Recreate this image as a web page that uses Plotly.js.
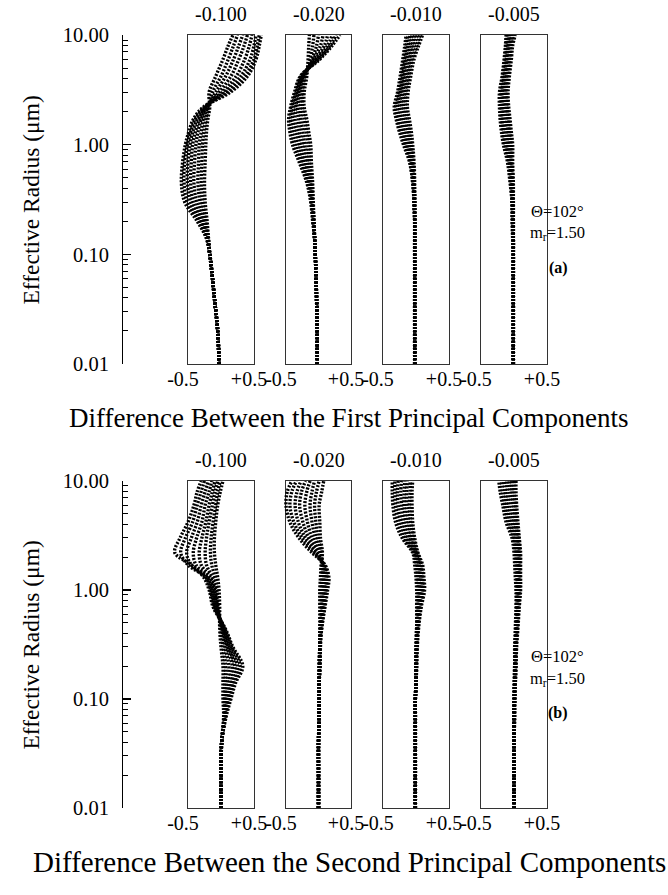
<!DOCTYPE html>
<html>
<head>
<meta charset="utf-8">
<script src="https://cdn.plot.ly/plotly-3.0.1.min.js"></script>
<style>
  html, body { margin: 0; padding: 0; background: #fff; }
  #chart { width: 668px; height: 895px; }
</style>
</head>
<body>
<div id="chart"></div>
<script>
// Effective radius grid (µm) shared by every curve
const RADIUS = [0.01, 0.02, 0.04, 0.07, 0.1, 0.14, 0.2, 0.3, 0.45, 0.7, 1.0, 1.3, 1.7, 2.2, 3.0, 4.2, 6.0, 8.0, 10.0];

// Column headings (perturbation of the refractive index)
const COLUMN_LABELS = ['-0.100', '-0.020', '-0.010', '-0.005'];

// Y tick values and their printed labels
const Y_TICKS = [0.01, 0.1, 1, 10];
const Y_TICK_TEXT = ['0.01', '0.10', '1.00', '10.00'];
const Y_MINOR = [0.02,0.03,0.04,0.05,0.06,0.07,0.08,0.09,0.2,0.3,0.4,0.5,0.6,0.7,0.8,0.9,2,3,4,5,6,7,8,9];

// X tick values and their printed labels
const X_TICKS = [-0.5, 0.5];
const X_TICK_TEXT = ['-0.5', '+0.5'];

// (a) Difference between the first principal components
const first_m100 = [
  [-0.03,-0.05,-0.10,-0.14,-0.17,-0.19,-0.21,-0.24,-0.25,-0.24,-0.23,-0.22,-0.20,-0.17,-0.18,-0.08,0.03,0.11,0.18],
  [-0.03,-0.05,-0.10,-0.14,-0.17,-0.19,-0.23,-0.28,-0.30,-0.29,-0.28,-0.26,-0.23,-0.19,-0.13,0.00,0.11,0.19,0.25],
  [-0.03,-0.05,-0.10,-0.14,-0.17,-0.20,-0.25,-0.32,-0.35,-0.34,-0.33,-0.30,-0.27,-0.20,-0.08,0.07,0.19,0.27,0.33],
  [-0.03,-0.05,-0.10,-0.14,-0.17,-0.20,-0.27,-0.37,-0.41,-0.40,-0.38,-0.35,-0.30,-0.22,-0.03,0.15,0.27,0.35,0.40],
  [-0.03,-0.05,-0.10,-0.14,-0.17,-0.21,-0.29,-0.42,-0.46,-0.45,-0.43,-0.39,-0.33,-0.23,0.02,0.23,0.36,0.43,0.47],
  [-0.03,-0.05,-0.10,-0.14,-0.17,-0.21,-0.31,-0.46,-0.51,-0.50,-0.47,-0.43,-0.36,-0.24,0.06,0.30,0.44,0.50,0.53],
  [-0.03,-0.05,-0.10,-0.14,-0.17,-0.22,-0.33,-0.51,-0.56,-0.55,-0.51,-0.46,-0.39,-0.25,0.10,0.36,0.50,0.55,0.58],
  [-0.03,-0.05,-0.10,-0.14,-0.17,-0.22,-0.36,-0.55,-0.60,-0.58,-0.54,-0.49,-0.42,-0.27,0.14,0.40,0.53,0.58,0.61]
];
const first_m020 = [
  [-0.02,-0.02,-0.03,-0.04,-0.05,-0.06,-0.07,-0.08,-0.09,-0.11,-0.12,-0.15,-0.18,-0.22,-0.22,-0.18,-0.16,-0.15,-0.14],
  [-0.02,-0.02,-0.03,-0.04,-0.05,-0.06,-0.07,-0.09,-0.10,-0.14,-0.16,-0.19,-0.22,-0.25,-0.24,-0.20,-0.13,-0.09,-0.07],
  [-0.02,-0.02,-0.03,-0.04,-0.05,-0.06,-0.07,-0.09,-0.12,-0.17,-0.21,-0.24,-0.27,-0.28,-0.26,-0.21,-0.10,-0.03,0.00],
  [-0.02,-0.02,-0.03,-0.04,-0.05,-0.06,-0.08,-0.10,-0.13,-0.20,-0.25,-0.29,-0.31,-0.32,-0.29,-0.23,-0.08,0.03,0.07],
  [-0.02,-0.02,-0.03,-0.04,-0.05,-0.06,-0.08,-0.10,-0.14,-0.23,-0.29,-0.33,-0.36,-0.35,-0.31,-0.24,-0.05,0.09,0.14],
  [-0.02,-0.02,-0.03,-0.04,-0.05,-0.06,-0.08,-0.11,-0.15,-0.25,-0.33,-0.37,-0.40,-0.38,-0.33,-0.25,-0.03,0.14,0.21],
  [-0.02,-0.02,-0.03,-0.04,-0.05,-0.06,-0.08,-0.11,-0.17,-0.28,-0.37,-0.41,-0.43,-0.41,-0.35,-0.27,0.00,0.18,0.27],
  [-0.02,-0.02,-0.03,-0.04,-0.05,-0.06,-0.09,-0.12,-0.18,-0.30,-0.40,-0.44,-0.46,-0.43,-0.37,-0.28,0.02,0.21,0.33]
];
const first_m010 = [
  [-0.02,-0.02,-0.02,-0.02,-0.02,-0.02,-0.02,-0.02,-0.02,-0.03,-0.05,-0.07,-0.10,-0.13,-0.12,-0.08,-0.03,0.04,0.10],
  [-0.02,-0.02,-0.02,-0.02,-0.02,-0.02,-0.02,-0.02,-0.03,-0.04,-0.07,-0.10,-0.13,-0.16,-0.15,-0.11,-0.06,0.01,0.06],
  [-0.02,-0.02,-0.02,-0.02,-0.02,-0.02,-0.02,-0.02,-0.03,-0.05,-0.09,-0.12,-0.16,-0.19,-0.17,-0.13,-0.09,-0.03,0.02],
  [-0.02,-0.02,-0.02,-0.02,-0.02,-0.02,-0.02,-0.02,-0.03,-0.06,-0.11,-0.15,-0.19,-0.22,-0.20,-0.16,-0.11,-0.06,-0.02],
  [-0.02,-0.02,-0.02,-0.02,-0.02,-0.02,-0.02,-0.03,-0.04,-0.07,-0.13,-0.18,-0.22,-0.25,-0.22,-0.18,-0.14,-0.09,-0.06],
  [-0.02,-0.02,-0.02,-0.02,-0.02,-0.02,-0.02,-0.03,-0.04,-0.08,-0.15,-0.20,-0.25,-0.28,-0.24,-0.20,-0.16,-0.12,-0.09],
  [-0.02,-0.02,-0.02,-0.02,-0.02,-0.02,-0.02,-0.03,-0.05,-0.09,-0.17,-0.23,-0.28,-0.31,-0.26,-0.22,-0.18,-0.15,-0.12],
  [-0.02,-0.02,-0.02,-0.02,-0.02,-0.02,-0.02,-0.03,-0.05,-0.10,-0.19,-0.25,-0.30,-0.33,-0.28,-0.24,-0.20,-0.17,-0.15]
];
const first_m005 = [
  [-0.01,-0.01,-0.01,-0.01,-0.01,-0.01,-0.01,-0.01,-0.01,-0.02,-0.02,-0.04,-0.06,-0.08,-0.09,-0.07,-0.04,-0.02,0.02],
  [-0.01,-0.01,-0.01,-0.01,-0.01,-0.01,-0.01,-0.01,-0.02,-0.03,-0.04,-0.06,-0.08,-0.10,-0.11,-0.09,-0.06,-0.04,0.00],
  [-0.01,-0.01,-0.01,-0.01,-0.01,-0.01,-0.01,-0.02,-0.02,-0.04,-0.06,-0.08,-0.10,-0.12,-0.13,-0.11,-0.08,-0.06,-0.03],
  [-0.01,-0.01,-0.01,-0.01,-0.01,-0.01,-0.02,-0.02,-0.03,-0.05,-0.08,-0.10,-0.12,-0.14,-0.15,-0.12,-0.10,-0.08,-0.05],
  [-0.01,-0.01,-0.01,-0.01,-0.01,-0.01,-0.02,-0.02,-0.04,-0.06,-0.10,-0.12,-0.15,-0.16,-0.17,-0.14,-0.11,-0.09,-0.07],
  [-0.01,-0.01,-0.01,-0.01,-0.01,-0.01,-0.02,-0.03,-0.04,-0.07,-0.12,-0.15,-0.17,-0.18,-0.18,-0.15,-0.12,-0.10,-0.08],
  [-0.01,-0.01,-0.01,-0.01,-0.01,-0.02,-0.02,-0.03,-0.05,-0.08,-0.14,-0.17,-0.19,-0.20,-0.20,-0.17,-0.14,-0.12,-0.10],
  [-0.01,-0.01,-0.01,-0.01,-0.01,-0.02,-0.03,-0.03,-0.06,-0.10,-0.16,-0.19,-0.21,-0.22,-0.22,-0.18,-0.15,-0.13,-0.12]
];

// (b) Difference between the second principal components
const second_m100 = [
  [0.00,0.00,0.01,0.04,0.03,0.03,0.03,0.00,-0.02,-0.02,-0.03,-0.05,-0.08,-0.10,-0.10,-0.08,-0.05,-0.01,0.03],
  [0.00,0.00,0.01,0.05,0.05,0.06,0.07,0.03,-0.01,-0.04,-0.06,-0.09,-0.14,-0.16,-0.15,-0.12,-0.08,-0.05,-0.01],
  [0.00,0.00,0.01,0.05,0.06,0.09,0.12,0.06,0.01,-0.05,-0.08,-0.13,-0.22,-0.24,-0.22,-0.18,-0.13,-0.09,-0.05],
  [0.00,0.00,0.01,0.06,0.08,0.12,0.17,0.09,0.02,-0.06,-0.10,-0.16,-0.30,-0.33,-0.29,-0.23,-0.18,-0.13,-0.09],
  [0.00,0.00,0.01,0.06,0.10,0.15,0.21,0.11,0.03,-0.08,-0.12,-0.19,-0.38,-0.42,-0.37,-0.29,-0.24,-0.18,-0.14],
  [0.00,0.00,0.01,0.07,0.11,0.17,0.25,0.13,0.04,-0.09,-0.14,-0.21,-0.45,-0.52,-0.45,-0.36,-0.30,-0.24,-0.19],
  [0.00,0.00,0.01,0.07,0.13,0.20,0.29,0.16,0.05,-0.10,-0.16,-0.23,-0.50,-0.61,-0.54,-0.43,-0.36,-0.30,-0.25],
  [0.00,0.00,0.01,0.08,0.15,0.22,0.33,0.18,0.06,-0.12,-0.18,-0.26,-0.45,-0.70,-0.62,-0.50,-0.41,-0.36,-0.30]
];
const second_m020 = [
  [0.00,0.00,0.00,0.01,0.01,0.01,0.01,0.02,0.02,0.02,0.02,0.03,0.04,0.06,0.03,0.02,0.01,0.05,0.08],
  [0.00,0.00,0.00,0.01,0.01,0.01,0.01,0.02,0.03,0.04,0.04,0.05,0.05,0.05,-0.01,-0.04,-0.06,-0.03,0.01],
  [0.00,0.00,0.00,0.01,0.01,0.01,0.01,0.02,0.03,0.05,0.06,0.07,0.06,0.03,-0.05,-0.10,-0.13,-0.10,-0.06],
  [0.00,0.00,0.00,0.01,0.01,0.01,0.02,0.02,0.03,0.06,0.08,0.08,0.06,0.01,-0.10,-0.17,-0.21,-0.18,-0.13],
  [0.00,0.00,0.00,0.01,0.01,0.01,0.02,0.02,0.04,0.07,0.09,0.10,0.07,-0.02,-0.15,-0.24,-0.29,-0.26,-0.20],
  [0.00,0.00,0.00,0.01,0.01,0.01,0.02,0.02,0.04,0.08,0.11,0.12,0.08,-0.04,-0.20,-0.31,-0.36,-0.33,-0.27],
  [0.00,0.00,0.00,0.01,0.01,0.01,0.02,0.02,0.05,0.09,0.12,0.14,0.09,-0.07,-0.25,-0.38,-0.44,-0.41,-0.34],
  [0.00,0.00,0.00,0.01,0.01,0.01,0.02,0.03,0.05,0.10,0.14,0.16,0.10,-0.10,-0.30,-0.44,-0.50,-0.48,-0.41]
];
const second_m010 = [
  [-0.01,-0.01,-0.01,-0.01,-0.01,0.00,0.00,0.00,0.01,0.01,0.01,0.00,-0.02,-0.05,-0.21,-0.31,-0.35,-0.36,-0.36],
  [-0.01,-0.01,-0.01,-0.01,-0.01,0.00,0.00,0.00,0.01,0.02,0.03,0.02,0.00,-0.04,-0.18,-0.27,-0.31,-0.32,-0.32],
  [-0.01,-0.01,-0.01,-0.01,-0.01,0.00,0.00,0.01,0.01,0.03,0.05,0.04,0.02,-0.03,-0.15,-0.23,-0.27,-0.28,-0.27],
  [-0.01,-0.01,-0.01,-0.01,-0.01,0.00,0.00,0.01,0.02,0.04,0.06,0.06,0.04,-0.01,-0.12,-0.19,-0.22,-0.23,-0.22],
  [-0.01,-0.01,-0.01,-0.01,-0.01,0.00,0.00,0.01,0.02,0.05,0.08,0.07,0.05,0.00,-0.09,-0.15,-0.18,-0.18,-0.17],
  [-0.01,-0.01,-0.01,-0.01,-0.01,0.00,0.00,0.01,0.03,0.06,0.10,0.08,0.07,0.01,-0.07,-0.11,-0.14,-0.14,-0.13],
  [-0.01,-0.01,-0.01,-0.01,-0.01,0.00,0.01,0.01,0.03,0.07,0.11,0.10,0.08,0.02,-0.04,-0.08,-0.10,-0.09,-0.09],
  [-0.01,-0.01,-0.01,-0.01,-0.01,0.00,0.01,0.02,0.04,0.08,0.13,0.12,0.10,0.03,-0.02,-0.05,-0.06,-0.06,-0.05]
];
const second_m005 = [
  [0.00,0.00,0.00,0.00,0.00,0.00,0.01,0.01,0.02,0.03,0.03,0.02,0.01,0.00,-0.03,-0.12,-0.17,-0.21,-0.23],
  [0.00,0.00,0.00,0.00,0.00,0.01,0.01,0.02,0.03,0.04,0.04,0.04,0.03,0.02,-0.01,-0.09,-0.14,-0.17,-0.19],
  [0.00,0.00,0.00,0.00,0.00,0.01,0.01,0.02,0.03,0.04,0.05,0.05,0.05,0.04,0.01,-0.06,-0.11,-0.13,-0.15],
  [0.00,0.00,0.00,0.00,0.01,0.01,0.02,0.02,0.04,0.05,0.06,0.06,0.06,0.05,0.03,-0.03,-0.08,-0.10,-0.11],
  [0.00,0.00,0.00,0.00,0.01,0.01,0.02,0.03,0.04,0.06,0.07,0.07,0.07,0.07,0.05,0.00,-0.04,-0.06,-0.07],
  [0.00,0.00,0.00,0.00,0.01,0.01,0.02,0.03,0.05,0.06,0.08,0.08,0.08,0.08,0.06,0.02,-0.01,-0.03,-0.03],
  [0.00,0.00,0.00,0.01,0.01,0.02,0.03,0.03,0.05,0.07,0.09,0.09,0.09,0.09,0.07,0.04,0.02,0.00,0.00],
  [0.00,0.00,0.00,0.01,0.01,0.02,0.03,0.04,0.06,0.08,0.10,0.10,0.10,0.10,0.08,0.06,0.04,0.03,0.03]
];

const PANELS = [
  { sets: [first_m100, first_m020, first_m010, first_m005],
    caption: 'Difference Between the First Principal Components', captionSize: 27, tag: '(a)' },
  { sets: [second_m100, second_m020, second_m010, second_m005],
    caption: 'Difference Between the Second Principal Components', captionSize: 29, tag: '(b)' }
];

// ---- page geometry (pixels) ----
const W = 668, H = 895;
const BOX_X = [[188, 254], [286, 351], [383, 449], [481, 547]];
const PANEL_Y = [[35, 364], [481, 808]];
const AXIS_X = 122;     // left radius axis
const SPILL = 26;       // curves may run this far past a box edge
const FONT = 'Liberation Serif, Times New Roman, serif';

const px = v => v / W;
const py = v => 1 - v / H;

const traces = [];
const layout = {
  width: W, height: H,
  margin: { l: 0, r: 0, t: 0, b: 0 },
  paper_bgcolor: '#fff',
  plot_bgcolor: 'rgba(0,0,0,0)',
  showlegend: false,
  font: { family: FONT, color: '#000', size: 18 },
  annotations: []
};

PANELS.forEach((panel, p) => {
  const [top, bot] = PANEL_Y[p];
  const yDomain = [py(bot), py(top)];
  const yName = p === 0 ? 'y' : 'y2';
  const yKey = p === 0 ? 'yaxis' : 'yaxis2';

  // labelled logarithmic radius axis
  layout[yKey] = {
    domain: yDomain, anchor: 'free', position: px(AXIS_X),
    type: 'log', range: [-2, 1], fixedrange: true,
    showline: true, linecolor: '#000', linewidth: 1.3,
    ticks: 'inside', ticklen: 8, tickwidth: 1.2, tickcolor: '#000',
    tickmode: 'array', tickvals: Y_TICKS, ticktext: Y_TICK_TEXT,
    ticklabelstandoff: 9,
    minor: { ticks: 'inside', ticklen: 5, tickwidth: 1, tickcolor: '#000',
             tickmode: 'array', tickvals: Y_MINOR, showgrid: false },
    tickfont: { family: FONT, size: 20.5, color: '#000' },
    showgrid: false, zeroline: false
  };

  layout.annotations.push({
    text: 'Effective Radius (μm)', textangle: -90,
    xref: 'paper', yref: 'paper', x: px(30), y: py((top + bot) / 2 + 1),
    xanchor: 'center', yanchor: 'middle', showarrow: false,
    font: { family: FONT, size: 23.5, color: '#000' }
  });

  panel.sets.forEach((curves, k) => {
    const i = p * 4 + k;
    const [L, R] = BOX_X[k];
    const wpx = R - L;
    const boxX = 'x' + (i + 1), boxY = 'y' + (i + 3);
    const dataX = 'x' + (i + 9);

    // frame of the column, carrying the -0.5 / +0.5 labels
    layout['xaxis' + (i + 1)] = {
      domain: [px(L), px(R)], anchor: boxY, range: [-0.5, 0.5], fixedrange: true,
      showline: true, mirror: true, linecolor: '#333', linewidth: 1,
      ticks: '', tickmode: 'array', tickvals: X_TICKS, ticktext: X_TICK_TEXT,
      ticklabelshift: -5, ticklabelstandoff: -3,
      tickfont: { family: FONT, size: 20, color: '#000' },
      showgrid: false, zeroline: false
    };
    layout['yaxis' + (i + 3)] = {
      domain: yDomain, anchor: boxX, range: [0, 1], fixedrange: true,
      showline: true, mirror: true, linecolor: '#333', linewidth: 1,
      ticks: '', showticklabels: false, showgrid: false, zeroline: false
    };
    // empty trace so the frame subplot gets built
    traces.push({ type: 'scatter', mode: 'lines', x: [], y: [], xaxis: boxX, yaxis: boxY, hoverinfo: 'skip' });

    // same scale as the frame, but wider so curves can spill past the edge
    const extra = SPILL / wpx;
    layout['xaxis' + (i + 9)] = {
      domain: [px(L - SPILL), px(R + SPILL)], anchor: yName,
      range: [-0.5 - extra, 0.5 + extra], fixedrange: true, visible: false
    };

    curves.forEach(vals => {
      traces.push({
        type: 'scatter', mode: 'lines',
        x: vals, y: RADIUS, xaxis: dataX, yaxis: yName,
        line: { color: '#000', width: 3.4, dash: '2px,1.5px', shape: 'spline', smoothing: 1 },
        hoverinfo: 'skip'
      });
    });

    layout.annotations.push({
      text: COLUMN_LABELS[k], xref: 'paper', yref: 'paper',
      x: px((L + R) / 2), y: py(top - 21), xanchor: 'center', yanchor: 'middle',
      showarrow: false, font: { family: FONT, size: 20, color: '#000' }
    });
  });

  // caption under the columns
  layout.annotations.push({
    text: panel.caption, xref: 'paper', yref: 'paper',
    x: px(349), y: py(bot + 54), xanchor: 'center', yanchor: 'middle',
    showarrow: false, font: { family: FONT, size: panel.captionSize, color: '#000' }
  });

  // scattering angle / refractive index note and panel tag
  const mid = (top + bot) / 2;
  layout.annotations.push({
    text: 'Θ=102°', xref: 'paper', yref: 'paper', x: px(557), y: py(mid + 12),
    xanchor: 'center', yanchor: 'middle', showarrow: false,
    font: { family: FONT, size: 16.5, color: '#000' }
  });
  layout.annotations.push({
    text: 'm<sub>r</sub>=1.50', xref: 'paper', yref: 'paper', x: px(557), y: py(mid + 34),
    xanchor: 'center', yanchor: 'middle', showarrow: false,
    font: { family: FONT, size: 16.5, color: '#000' }
  });
  layout.annotations.push({
    text: '<b>' + panel.tag + '</b>', xref: 'paper', yref: 'paper', x: px(558), y: py(mid + 68),
    xanchor: 'center', yanchor: 'middle', showarrow: false,
    font: { family: FONT, size: 16, color: '#000' }
  });
});

Plotly.newPlot('chart', traces, layout, { displayModeBar: false, staticPlot: true });
</script>
</body>
</html>
